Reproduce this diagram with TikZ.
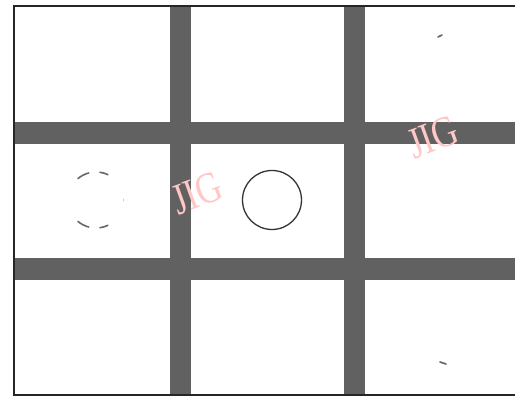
\documentclass[tikz,border=0pt]{standalone}
\usepackage{fontspec}
\setmainfont{Liberation Serif}
\usetikzlibrary{positioning}

\begin{document}
\begin{tikzpicture}[x=1pt, y=1pt, bar/.style={fill=black!62}, frame/.style={draw=black!85, line width=1.3pt}, ring/.style={draw=black!80, line width=1.3pt}, ghost/.style={draw=black!60, line width=1.6pt, line cap=round}, stamp/.style={text=red!22, font=\fontsize{44}{44}\selectfont, rotate=20, xscale=0.8}]
\useasboundingbox (0,0) rectangle (515,396);
% grey bars of the grid
\foreach \x in {170,344} \fill[bar] (\x,1) rectangle ++(21,389);
\foreach \y in {116,252} \fill[bar] (14,\y) rectangle ++(501,22);
% outer frame, open to the right
\draw[frame] (515,390) -- (14,390) -- (14,1) -- (515,1);
% full ring in the middle cell
\coordinate (C) at (272,196);
\draw[ring] (C) circle[radius=29.5];
% faint ring in the left cell
\coordinate (L) at (96,196);
\foreach \a/\b in {65/82,105/130,230/255,278/295}
  \draw[ghost] ([shift={(\a:28)}]L) arc[start angle=\a, end angle=\b, radius=28];
\draw[ghost, draw=black!20, line width=1pt] ([shift={(-2:28)}]L) arc[start angle=-2, end angle=2, radius=28];
% traces in the right cells
\draw[ghost] (438,359) -- (442,361);
\draw[ghost] (440,34) -- (446,32);
% watermarks
\node[stamp] (w1) at (197,203) {JIG};
\node[stamp] (w2) at (433,259) {JIG};
\end{tikzpicture}
\end{document}
